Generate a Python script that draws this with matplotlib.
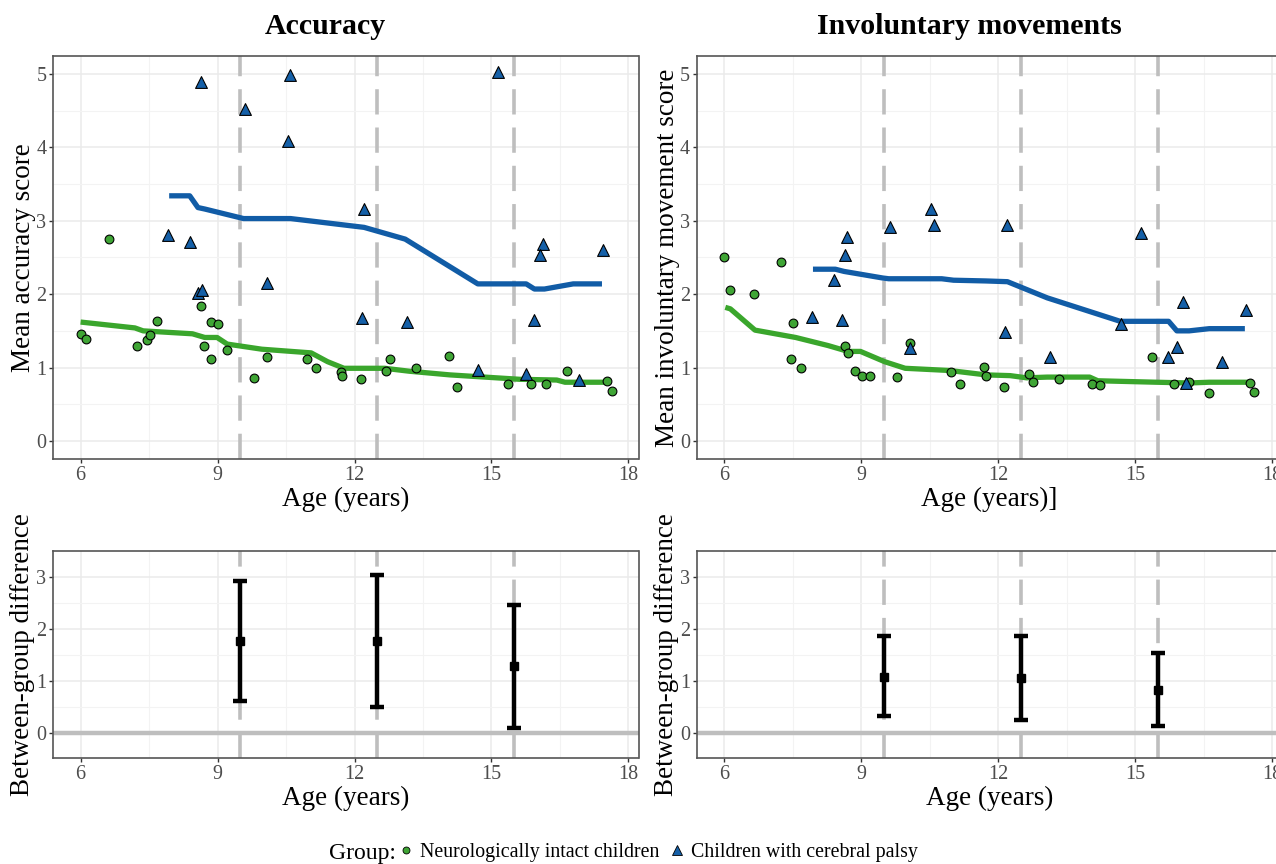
import matplotlib.pyplot as plt
from matplotlib.lines import Line2D
import numpy as np

# ---------- Data ----------
# accuracy panel: neurologically intact children (points)
acc_td_age = [6.0, 6.12, 6.63, 7.23, 7.46, 7.51, 7.67, 8.64, 8.71, 8.85, 8.85, 9.01, 9.20,
              9.79, 10.08, 10.97, 11.16, 11.70, 11.72, 12.14, 12.69, 12.78, 13.35, 14.08,
              14.24, 15.37, 15.87, 16.20, 16.65, 17.54, 17.63]
acc_td_val = [1.46, 1.39, 2.75, 1.30, 1.37, 1.44, 1.63, 1.84, 1.30, 1.62, 1.11, 1.59, 1.24,
              0.86, 1.15, 1.12, 0.99, 0.94, 0.89, 0.85, 0.95, 1.12, 0.99, 1.16,
              0.73, 0.78, 0.78, 0.78, 0.95, 0.82, 0.68]
# accuracy panel: children with cerebral palsy (points)
acc_cp_age = [8.63, 9.61, 10.59, 10.54, 15.14, 12.21, 7.92, 8.39, 16.12, 17.44,
              16.07, 8.57, 8.67, 10.08, 12.16, 13.16, 15.94, 14.70, 15.75, 16.92]
acc_cp_val = [4.89, 4.52, 4.98, 4.09, 5.03, 3.16, 2.80, 2.71, 2.68, 2.60,
              2.53, 2.01, 2.05, 2.15, 1.68, 1.62, 1.65, 0.96, 0.91, 0.83]
# accuracy panel: smoothed group curves
acc_cp_line_age = [7.94, 8.39, 8.57, 8.72, 9.57, 10.60, 12.21, 13.11, 14.70, 15.76, 15.94, 16.16, 16.79, 17.42]
acc_cp_line_val = [3.34, 3.34, 3.18, 3.16, 3.03, 3.03, 2.91, 2.75, 2.14, 2.14, 2.07, 2.07, 2.14, 2.14]
acc_td_line_age = [6.0, 7.19, 7.37, 8.45, 8.72, 8.99, 9.21, 9.97, 11.05, 11.41, 11.77, 12.66,
                   13.20, 14.09, 15.62, 16.43, 16.61, 17.59]
acc_td_line_val = [1.62, 1.54, 1.50, 1.46, 1.41, 1.41, 1.32, 1.25, 1.20, 1.08, 0.99, 0.99,
                   0.95, 0.90, 0.84, 0.83, 0.80, 0.80]

# involuntary movements panel
inv_td_age = [6.0, 6.12, 6.64, 7.23, 7.51, 7.46, 7.68, 8.64, 8.71, 8.85, 9.01, 9.20, 9.79,
              10.06, 10.97, 11.16, 11.69, 11.72, 12.13, 12.68, 12.77, 13.33, 14.06, 14.23,
              15.36, 15.85, 16.18, 16.62, 17.51, 17.60]
inv_td_val = [2.51, 2.05, 2.00, 2.44, 1.61, 1.12, 0.99, 1.29, 1.20, 0.95, 0.88, 0.89, 0.87,
              1.33, 0.94, 0.78, 1.01, 0.88, 0.73, 0.91, 0.80, 0.85, 0.78, 0.76,
              1.14, 0.78, 0.80, 0.66, 0.79, 0.67]
inv_cp_age = [10.52, 10.60, 9.62, 12.20, 15.12, 8.68, 8.65, 8.40, 7.92, 8.57,
              10.06, 12.15, 13.14, 14.68, 15.72, 15.92, 16.04, 16.12, 16.91, 17.42]
inv_cp_val = [3.16, 2.94, 2.92, 2.94, 2.83, 2.78, 2.53, 2.19, 1.69, 1.65,
              1.27, 1.48, 1.15, 1.59, 1.15, 1.28, 1.90, 0.79, 1.07, 1.79]
inv_cp_line_age = [7.94, 8.43, 8.62, 9.47, 9.60, 10.76, 11.02, 11.73, 12.20, 13.07, 14.67,
                   15.73, 15.91, 16.18, 16.62, 17.40]
inv_cp_line_val = [2.34, 2.34, 2.31, 2.22, 2.21, 2.21, 2.19, 2.18, 2.17, 1.95, 1.63,
                   1.63, 1.50, 1.50, 1.53, 1.53]
inv_td_line_age = [6.02, 6.13, 6.67, 7.56, 8.27, 8.71, 8.98, 9.51, 9.96, 10.93, 11.73, 12.26,
                   12.62, 13.07, 14.0, 14.18, 15.47, 16.18, 16.62, 17.56]
inv_td_line_val = [1.82, 1.80, 1.51, 1.41, 1.30, 1.22, 1.22, 1.08, 0.99, 0.96, 0.90, 0.89,
                   0.86, 0.87, 0.87, 0.82, 0.80, 0.79, 0.80, 0.80]

# between-group differences at the three ages
diff_age = [9.5, 12.5, 15.5]
acc_diff = [1.76, 1.76, 1.29]
acc_lo = [0.62, 0.50, 0.10]
acc_hi = [2.92, 3.03, 2.45]
inv_diff = [1.08, 1.06, 0.815]
inv_lo = [0.315, 0.25, 0.13]
inv_hi = [1.86, 1.86, 1.53]

# ---------- Style ----------
plt.rcParams['font.family'] = ['Liberation Serif', 'DejaVu Serif']
green_fill = '#3fa535'
green_line = '#3aa62c'
blue_fill = '#1560a8'
blue_line = '#115ca6'
grey_ref = '#bebebe'

fig = plt.figure(figsize=(12.76, 8.64), dpi=100)
W, H = 1276., 864.

def ax_at(left, top, right, bottom):
    return fig.add_axes([left / W, 1 - bottom / H, (right - left) / W, (bottom - top) / H])

ax_acc = ax_at(53.2, 56, 638.5, 459.3)
ax_inv = ax_at(697.0, 56, 1282.3, 459.3)
ax_accd = ax_at(53.2, 550.7, 638.5, 758.3)
ax_invd = ax_at(697.0, 550.7, 1282.3, 758.3)

def style(ax, ylim, yticks, yminor):
    ax.set_xlim(5.40, 18.22)
    ax.set_ylim(*ylim)
    ax.set_xticks([6, 9, 12, 15, 18])
    ax.set_xticks([7.5, 10.5, 13.5, 16.5], minor=True)
    ax.set_yticks(yticks)
    ax.set_yticks(yminor, minor=True)
    ax.grid(True, which='major', color='#ebebeb', linewidth=1.1)
    ax.grid(True, which='minor', color='#f3f3f3', linewidth=0.8)
    ax.set_axisbelow(True)
    for s in ax.spines.values():
        s.set_color('#555555')
        s.set_linewidth(1.2)
    ax.tick_params(which='major', length=3, width=1, color='#333333', labelsize=14.5,
                   labelcolor='#4d4d4d', pad=2)
    ax.tick_params(which='minor', length=0)

def vlines(ax):
    for a in diff_age:
        ax.axvline(a, color=grey_ref, linewidth=2.6, dashes=(7, 3.6), zorder=1.5)

# ---------- top panels ----------
for ax, td_a, td_v, cp_a, cp_v, tdl_a, tdl_v, cpl_a, cpl_v in [
        (ax_acc, acc_td_age, acc_td_val, acc_cp_age, acc_cp_val,
         acc_td_line_age, acc_td_line_val, acc_cp_line_age, acc_cp_line_val),
        (ax_inv, inv_td_age, inv_td_val, inv_cp_age, inv_cp_val,
         inv_td_line_age, inv_td_line_val, inv_cp_line_age, inv_cp_line_val)]:
    style(ax, (-0.25, 5.245), [0, 1, 2, 3, 4, 5], [0.5, 1.5, 2.5, 3.5, 4.5])
    vlines(ax)
    ax.plot(tdl_a, tdl_v, color=green_line, linewidth=3.8, solid_capstyle='butt', zorder=2)
    ax.plot(cpl_a, cpl_v, color=blue_line, linewidth=3.8, solid_capstyle='butt', zorder=2)
    ax.scatter(td_a, td_v, s=40, marker='o', facecolor=green_fill, edgecolor='black',
               linewidth=0.8, zorder=3)
    ax.scatter(cp_a, cp_v, s=72, marker='^', facecolor=blue_fill, edgecolor='black',
               linewidth=0.8, zorder=3)

ax_acc.set_ylabel('Mean accuracy score', fontsize=19.5, labelpad=0)
ax_inv.set_ylabel('Mean involuntary movement score', fontsize=19.5, labelpad=0)
ax_acc.set_xlabel('Age (years)', fontsize=19.5, labelpad=1)
ax_inv.set_xlabel('Age (years)]', fontsize=19.5, labelpad=1)

# ---------- bottom panels ----------
for ax, d, lo, hi in [(ax_accd, acc_diff, acc_lo, acc_hi), (ax_invd, inv_diff, inv_lo, inv_hi)]:
    style(ax, (-0.49, 3.5), [0, 1, 2, 3], [0.5, 1.5, 2.5])
    vlines(ax)
    ax.axhline(0, color=grey_ref, linewidth=3.2, zorder=1.6)
    d = np.array(d)
    ax.errorbar(diff_age, d, yerr=[d - np.array(lo), np.array(hi) - d], fmt='s', color='black',
                markersize=5.5, elinewidth=3.2, capsize=5.2, capthick=3.2, zorder=3)
    ax.set_xlabel('Age (years)', fontsize=19.5, labelpad=1)
    ax.set_ylabel('Between-group difference', fontsize=19.5, labelpad=0.5)

# ---------- titles ----------
fig.text(325 / W, 1 - 27 / H, 'Accuracy', fontsize=21.5, fontweight='bold', ha='center', va='center')
fig.text(969.5 / W, 1 - 27 / H, 'Involuntary movements', fontsize=21.5, fontweight='bold',
         ha='center', va='center')

# ---------- legend ----------
fig.text(328.6 / W, 1 - 854 / H, 'Group:', fontsize=17, ha='left', va='center')
handles = [Line2D([], [], linestyle='none', marker='o', markersize=5, markerfacecolor=green_fill,
                  markeredgecolor='black', markeredgewidth=0.6, label='Neurologically intact children'),
           Line2D([], [], linestyle='none', marker='^', markersize=7, markerfacecolor=blue_fill,
                  markeredgecolor='black', markeredgewidth=0.6, label='Children with cerebral palsy')]
fig.legend(handles=handles, loc='center left', bbox_to_anchor=(398 / W, 1 - 852 / H), ncol=2,
           frameon=False, fontsize=14.3, handlelength=0.8, handletextpad=0.3,
           columnspacing=0.5, borderpad=0, borderaxespad=0)

fig.savefig('out.png', dpi=100)
